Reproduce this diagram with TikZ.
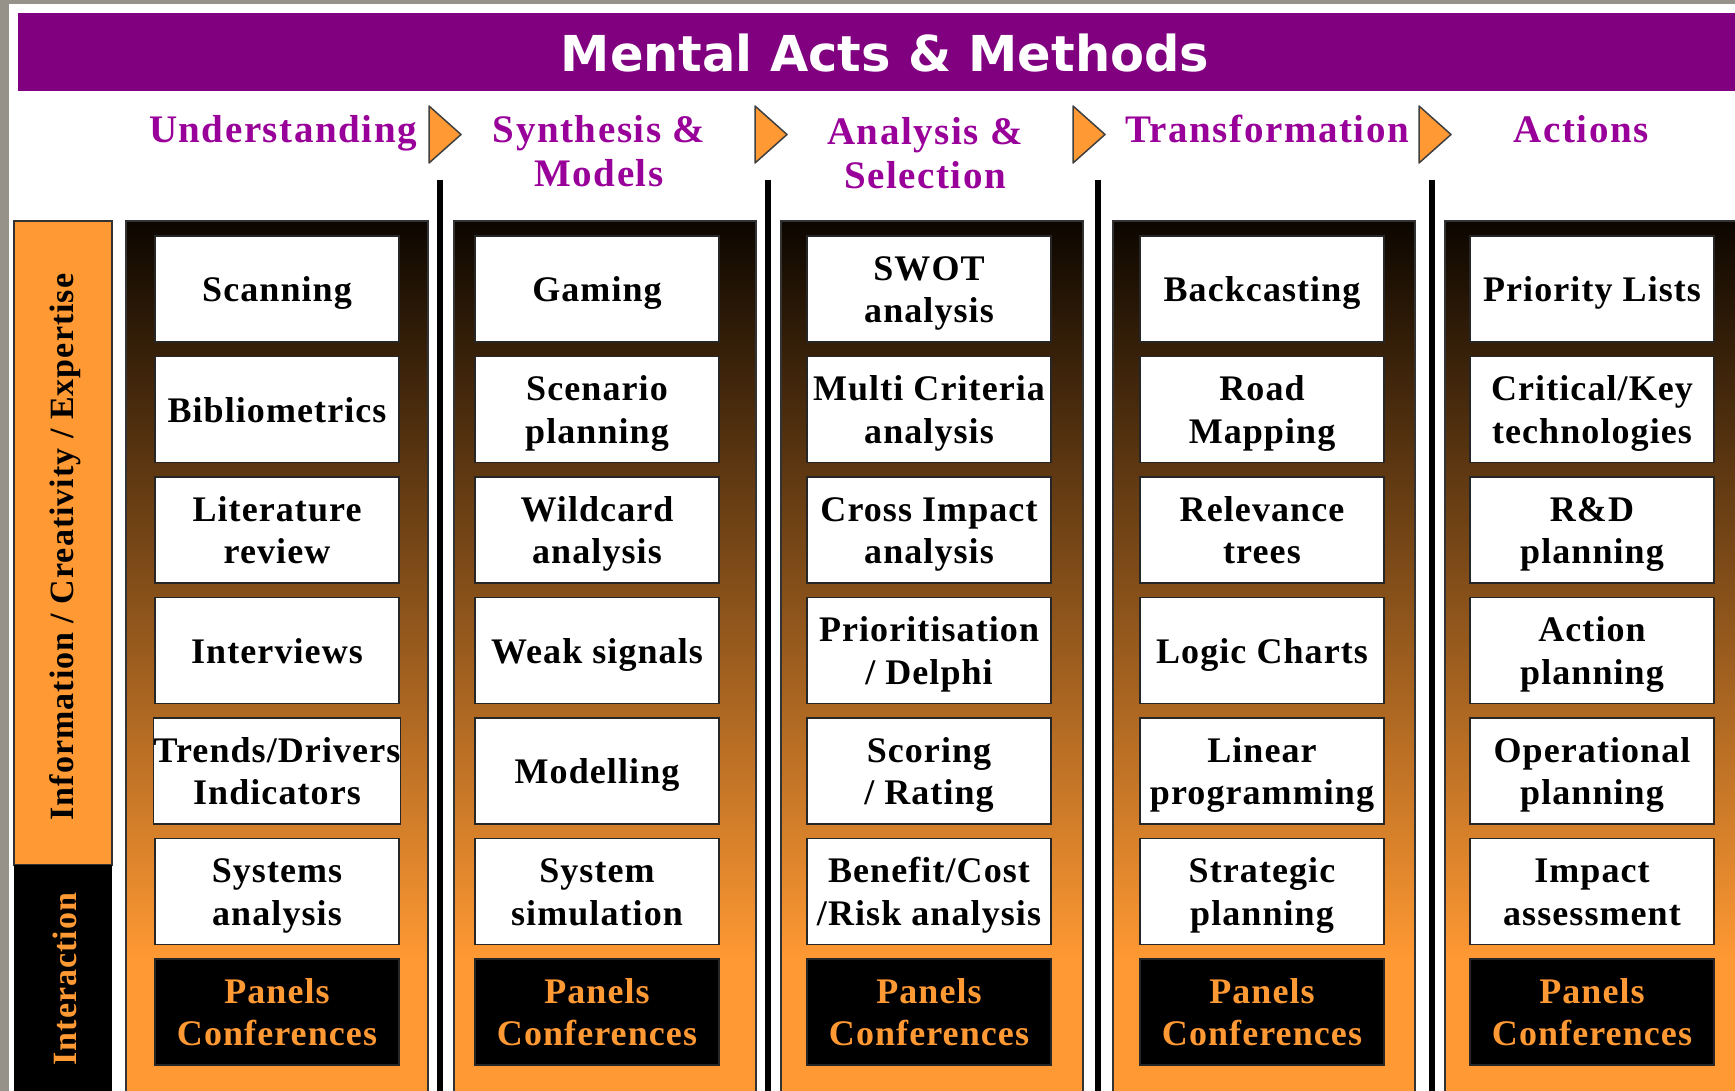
\documentclass[tikz,border=0pt]{standalone}
\usepackage{fontspec}
\setmainfont{Liberation Serif}
\newfontfamily\boxfont[LetterSpace=3]{Liberation Serif}
\newfontfamily\headfont[LetterSpace=4]{Liberation Serif}
\newfontfamily\titlefont{DejaVu Sans}
\definecolor{slidegray}{RGB}{150,146,138}
\definecolor{titlepurple}{RGB}{128,0,128}
\definecolor{headpurple}{RGB}{153,0,153}
\definecolor{foreorange}{RGB}{255,153,51}
\definecolor{coltop}{RGB}{12,6,0}
% box text: lines on a fixed strut, set a little low as on the slide
\newcommand\boxlines[1]{\raisebox{-4pt}[\height][\depth]{\begin{tabular}{@{}c@{}}#1\end{tabular}}}
\tikzset{
  method/.style={draw=black!85, line width=1.5pt, fill=white, minimum width=244pt,
    minimum height=106pt, inner sep=0pt, text=black,
    font=\boxfont\bfseries\fontsize{36}{42.5}\selectfont},
  panel/.style={method, fill=black, text=foreorange},
  phase/.style={text=headpurple, align=center,
    font=\headfont\bfseries\fontsize{39}{44}\selectfont},
  sidetext/.style={rotate=90, font=\boxfont\bfseries\fontsize{34}{40}\selectfont},
  stepmark/.style={fill=foreorange, draw=black!75, line width=1.5pt, line join=round},
  divider/.style={line width=5.5pt, black},
  column/.style={draw=black!80, line width=1.5pt}
}
\begin{document}
\begin{tikzpicture}[x=1pt,y=-1pt]
\useasboundingbox (0,0) rectangle (1735,1091);
\clip (0,0) rectangle (1735,1091);
% slide backdrop
\fill[white] (0,0) rectangle (1735,1091);
\fill[slidegray] (0,0) rectangle (9,1091);
\fill[slidegray] (0,0) rectangle (1735,4);
% title bar
\fill[titlepurple] (18,13) rectangle (1735,91);
\node[text=white, font=\titlefont\bfseries\fontsize{49.5}{58}\selectfont] (title) at (885,53) {Mental Acts \& Methods};
% phase headings
\node[phase, anchor=base] (understand) at (283,143) {Understanding};
\node[phase] (synthesis) at (599,151) {Synthesis \&\\Models};
\node[phase] (analysis) at (925,153) {Analysis \&\\Selection};
\node[phase, anchor=base] (transform) at (1267,143) {Transformation};
\node[phase, anchor=base] (actions) at (1581,143) {Actions};
\foreach \ax in {429,755,1073,1419}
  \draw[stepmark] (\ax,106) -- (\ax+32,134.5) -- (\ax,163) -- cycle;
% side bar
\draw[column, fill=foreorange] (14,221) rectangle (112,865);
\fill[black] (14,865) rectangle (112,1100);
\node[sidetext] (info) at (65,547) {Information / Creativity / Expertise};
\node[sidetext, text=foreorange] (interaction) at (65,979) {Interaction};
% columns
\foreach \cx in {126,454,781,1113,1445}{
  \shade[top color=coltop, bottom color=foreorange] (\cx,221) rectangle (\cx+302,960);
  \fill[foreorange] (\cx,959) rectangle (\cx+302,1100);
  \draw[column] (\cx,221) rectangle (\cx+302,1100);
}
\foreach \sx in {440,768,1098,1432}
  \draw[divider] (\sx,180) -- (\sx,1100);
% methods
\foreach \t [count=\r] in {Scanning, Bibliometrics, {Literature\\review}, Interviews,
    {Trends/Drivers\\Indicators}, {Systems\\analysis}}
  \node[method] (und\r) at (277,{168.5+120.5*\r}) {\boxlines{\t}};
\foreach \t [count=\r] in {Gaming, {Scenario\\planning}, {Wildcard\\analysis},
    {Weak signals}, Modelling, {System\\simulation}}
  \node[method] (syn\r) at (597,{168.5+120.5*\r}) {\boxlines{\t}};
\foreach \t [count=\r] in {{SWOT\\analysis}, {Multi Criteria\\analysis}, {Cross Impact\\analysis},
    {Prioritisation\\/ Delphi}, {Scoring\\/ Rating}, {Benefit/Cost\\/Risk analysis}}
  \node[method] (ana\r) at (929,{168.5+120.5*\r}) {\boxlines{\t}};
\foreach \t [count=\r] in {Backcasting, {Road\\Mapping}, {Relevance\\trees}, {Logic Charts},
    {Linear\\programming}, {Strategic\\planning}}
  \node[method] (tra\r) at (1262,{168.5+120.5*\r}) {\boxlines{\t}};
\foreach \t [count=\r] in {Priority Lists, {Critical/Key\\technologies}, {R\&D\\planning},
    {Action\\planning}, {Operational\\planning}, {Impact\\assessment}}
  \node[method] (act\r) at (1592,{168.5+120.5*\r}) {\boxlines{\t}};
% interaction row
\foreach \px/\nm in {277/und,597/syn,929/ana,1262/tra,1592/act}
  \node[panel] (\nm7) at (\px,1012) {\boxlines{Panels\\Conferences}};
\end{tikzpicture}
\end{document}
